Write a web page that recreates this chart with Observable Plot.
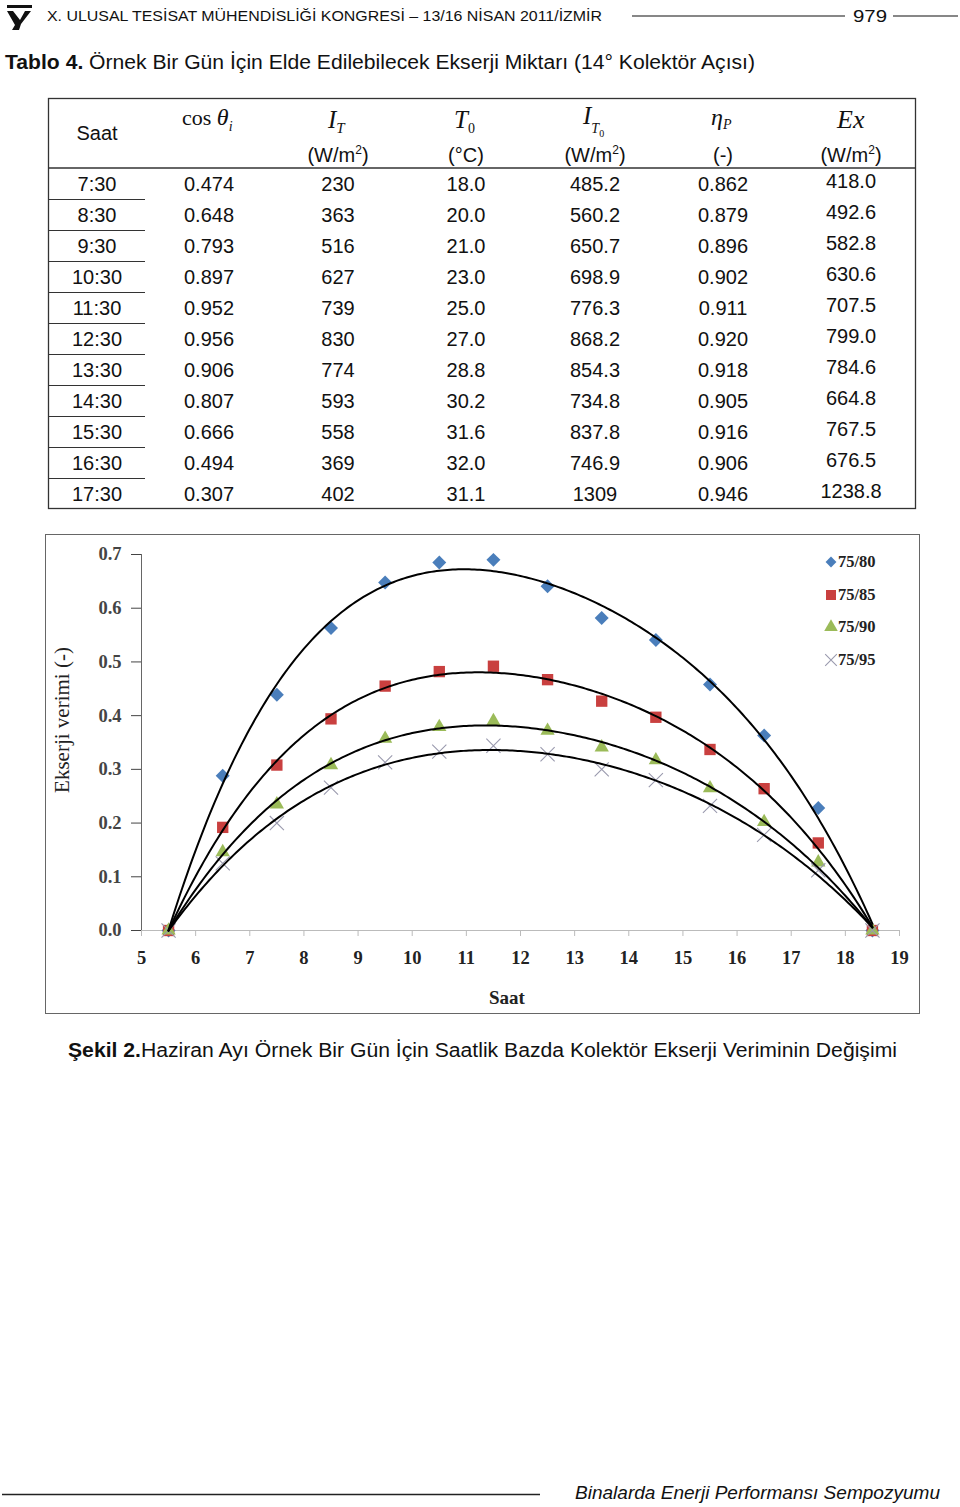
<!DOCTYPE html>
<html>
<head>
<meta charset="utf-8">
<script src="https://cdn.jsdelivr.net/npm/d3@7"></script>
<script src="https://cdn.jsdelivr.net/npm/@observablehq/plot@0.6"></script>
<style>
  html, body { margin: 0; padding: 0; background: #fff; }
  #page { position: relative; width: 960px; height: 1507px; overflow: hidden; }
  #page > svg.pagesvg { position: absolute; left: 0; top: 0; }
  #chart { position: absolute; left: 45px; top: 534px; width: 874px; height: 479px; }
  #chartframe { position: absolute; left: 45px; top: 534px; width: 873px; height: 478px; border: 1px solid #666; pointer-events: none; }
  .ov { position: absolute; font-family: "Liberation Serif", "Times New Roman", serif; color: #222; white-space: nowrap; }
</style>
</head>
<body>
<div id="page"></div>
<script>
// ---------------- DATA ----------------
const saat = ["7:30","8:30","9:30","10:30","11:30","12:30","13:30","14:30","15:30","16:30","17:30"];
const cosTheta = ["0.474","0.648","0.793","0.897","0.952","0.956","0.906","0.807","0.666","0.494","0.307"];
const IT = ["230","363","516","627","739","830","774","593","558","369","402"];
const T0 = ["18.0","20.0","21.0","23.0","25.0","27.0","28.8","30.2","31.6","32.0","31.1"];
const IT0 = ["485.2","560.2","650.7","698.9","776.3","868.2","854.3","734.8","837.8","746.9","1309"];
const etaP = ["0.862","0.879","0.896","0.902","0.911","0.920","0.918","0.905","0.916","0.906","0.946"];
const ExVal = ["418.0","492.6","582.8","630.6","707.5","799.0","784.6","664.8","767.5","676.5","1238.8"];

const hours = [5.5,6.5,7.5,8.5,9.5,10.5,11.5,12.5,13.5,14.5,15.5,16.5,17.5,18.5];
const s7580 = [0,0.288,0.439,0.563,0.648,0.685,0.690,0.641,0.582,0.541,0.458,0.363,0.228,0];
const s7585 = [0,0.192,0.308,0.394,0.455,0.482,0.492,0.467,0.427,0.397,0.337,0.264,0.163,0];
const s7590 = [0,0.146,0.235,0.308,0.357,0.379,0.390,0.372,0.341,0.317,0.265,0.202,0.127,0];
const s7595 = [0,0.125,0.200,0.266,0.313,0.333,0.344,0.328,0.300,0.280,0.232,0.178,0.112,0];
const seriesNames = ["75/80","75/85","75/90","75/95"];
const xTicks = [5,6,7,8,9,10,11,12,13,14,15,16,17,18,19];
const yTicks = [0,0.1,0.2,0.3,0.4,0.5,0.6,0.7];

// ---------------- PAGE (header, table, captions) ----------------
const page = d3.select("#page");
const svg = page.append("svg").attr("class","pagesvg").attr("width",960).attr("height",1507);
const SANS = "'Liberation Sans', Arial, sans-serif";
const SERIF = "'Liberation Serif', 'Times New Roman', serif";

// logo
const logo = svg.append("g").attr("fill","#111");
logo.append("rect").attr("x",7).attr("y",5).attr("width",25).attr("height",3);
logo.append("path").attr("d","M7,11 L13,11 L20,20 L25,11 L31,11 L21,24 L19,30 L12,30 L15,25 Z");
logo.append("circle").attr("cx",21).attr("cy",13).attr("r",2.2).attr("fill","#fff");

// header
svg.append("text").attr("x",47).attr("y",21).attr("font-family",SANS).attr("font-size",14)
  .attr("textLength",555).attr("lengthAdjust","spacingAndGlyphs").attr("fill","#111")
  .text("X. ULUSAL TESİSAT MÜHENDİSLİĞİ KONGRESİ – 13/16 NİSAN 2011/İZMİR");
svg.append("line").attr("x1",632).attr("x2",845).attr("y1",16).attr("y2",16).attr("stroke","#111").attr("stroke-width",1.2);
svg.append("line").attr("x1",893).attr("x2",958).attr("y1",16).attr("y2",16).attr("stroke","#111").attr("stroke-width",1.2);
svg.append("text").attr("x",853).attr("y",22).attr("font-family",SANS).attr("font-size",17)
  .attr("textLength",34).attr("lengthAdjust","spacingAndGlyphs").attr("fill","#111").text("979");
// title
const tt = svg.append("text").attr("x",5).attr("y",69).attr("font-family",SANS).attr("font-size",19.5)
  .attr("textLength",750).attr("lengthAdjust","spacingAndGlyphs").attr("fill","#111");
tt.append("tspan").attr("font-weight","bold").text("Tablo 4.");
tt.append("tspan").text(" Örnek Bir Gün İçin Elde Edilebilecek Ekserji Miktarı (14° Kolektör Açısı)");

// table
const tbl = svg.append("g");
tbl.append("rect").attr("x",48.5).attr("y",98.5).attr("width",867).attr("height",410)
  .attr("fill","none").attr("stroke","#333").attr("stroke-width",1.3);
tbl.append("line").attr("x1",48).attr("x2",916).attr("y1",168).attr("y2",168).attr("stroke","#333").attr("stroke-width",1.3);
const colX = [97,209,338,466,595,723,851];
const columns = [saat, cosTheta, IT, T0, IT0, etaP, ExVal];
const rowY0 = 184, rowH = 31;
saat.forEach((s,i) => {
  if (i < saat.length - 1) {
    tbl.append("line").attr("x1",48).attr("x2",145).attr("y1",rowY0 + rowH*i + 15.5).attr("y2",rowY0 + rowH*i + 15.5)
      .attr("stroke","#333").attr("stroke-width",1.2);
  }
});
columns.forEach((col,c) => {
  col.forEach((v,i) => {
    tbl.append("text").attr("x",colX[c]).attr("y",rowY0 + rowH*i + 7 - (c===6?3:0))
      .attr("text-anchor","middle").attr("font-family",SANS).attr("font-size",20).attr("fill","#111").text(v);
  });
});
// header row
tbl.append("text").attr("x",97).attr("y",140).attr("text-anchor","middle").attr("font-family",SANS).attr("font-size",20).attr("fill","#111").text("Saat");
function mathText(x, y, parts) {
  const t = tbl.append("text").attr("x",x).attr("y",y).attr("font-family",SERIF).attr("fill","#111");
  parts.forEach(p => {
    const s = t.append("tspan").text(p.t).attr("font-size",p.size || 24);
    if (p.it) s.attr("font-style","italic");
    if (p.dy) s.attr("dy",p.dy);
  });
  return t;
}
mathText(182,125,[{t:"cos ",size:22},{t:"θ",it:true,size:24},{t:"i",it:true,size:14,dy:6}]);
mathText(328,128,[{t:"I",it:true,size:25},{t:"T",it:true,size:15,dy:5}]);
mathText(454,128,[{t:"T",it:true,size:25},{t:"0",size:14,dy:5}]);
mathText(583,124,[{t:"I",it:true,size:25},{t:"T",it:true,size:14,dy:9},{t:"0",size:10,dy:4}]);
mathText(711,125,[{t:"η",it:true,size:24},{t:"P",it:true,size:14,dy:4}]);
mathText(837,128,[{t:"Ex",it:true,size:26}]);
function unitText(x, main, sup, tail) {
  const t = tbl.append("text").attr("x",x).attr("y",162).attr("text-anchor","middle").attr("font-family",SANS).attr("font-size",20).attr("fill","#111");
  t.append("tspan").text(main);
  if (sup) { t.append("tspan").attr("font-size",12).attr("dy",-8).text(sup); t.append("tspan").attr("dy",8).text(tail); }
}
unitText(338,"(W/m","2",")");
unitText(466,"(°C)");
unitText(595,"(W/m","2",")");
unitText(723,"(-)");
unitText(851,"(W/m","2",")");

// caption
const cap = svg.append("text").attr("x",68).attr("y",1057).attr("font-family",SANS).attr("font-size",19.5)
  .attr("textLength",829).attr("lengthAdjust","spacingAndGlyphs").attr("fill","#111");
cap.append("tspan").attr("font-weight","bold").text("Şekil 2.");
cap.append("tspan").text("Haziran Ayı Örnek Bir Gün İçin Saatlik Bazda Kolektör Ekserji Veriminin Değişimi");
// footer
svg.append("line").attr("x1",2).attr("x2",540).attr("y1",1494.5).attr("y2",1494.5).attr("stroke","#222").attr("stroke-width",1.6);
svg.append("text").attr("x",575).attr("y",1499).attr("font-family",SANS).attr("font-style","italic").attr("font-size",19)
  .attr("textLength",365).attr("lengthAdjust","spacingAndGlyphs").attr("fill","#111").text("Binalarda Enerji Performansı Sempozyumu");

// ---------------- CHART ----------------
const allSeries = [s7580, s7585, s7590, s7595];
const points = [];
allSeries.forEach((arr, k) => arr.forEach((v, i) => points.push({hour: hours[i], value: v, series: seriesNames[k]})));

// least-squares polynomial trendline (like the spreadsheet trendline) computed from the data
function polyfit(xs, ys, deg) {
  const c = 12, s = 6.5;
  const n = deg + 1;
  const A = Array.from({length:n}, () => new Array(n+1).fill(0));
  xs.forEach((x, i) => {
    const t = (x - c) / s;
    const p = []; for (let j = 0; j < n; j++) p.push(Math.pow(t, j));
    for (let r = 0; r < n; r++) { for (let q = 0; q < n; q++) A[r][q] += p[r]*p[q]; A[r][n] += p[r]*ys[i]; }
  });
  for (let col = 0; col < n; col++) {
    let piv = col; for (let r = col+1; r < n; r++) if (Math.abs(A[r][col]) > Math.abs(A[piv][col])) piv = r;
    [A[col], A[piv]] = [A[piv], A[col]];
    for (let r = 0; r < n; r++) if (r !== col) { const f = A[r][col]/A[col][col]; for (let q = col; q <= n; q++) A[r][q] -= f*A[col][q]; }
  }
  const coef = A.map((row, i) => row[n]/row[i]);
  return x => { const t = (x - c)/s; return coef.reduce((acc, a, j) => acc + a*Math.pow(t, j), 0); };
}
const trend = [];
const [h0, h1] = d3.extent(hours);
allSeries.forEach((arr, k) => {
  const f = polyfit(hours, arr, 4);
  for (let x = h0; x <= h1 + 1e-9; x += 0.05) trend.push({hour: x, value: f(x), series: seriesNames[k]});
});

const colors = {"75/80":"#4a7ebb","75/85":"#c9403f","75/90":"#9bbb59","75/95":"#9a9aae"};
const chart = Plot.plot({
  width: 874, height: 479,
  marginLeft: 96, marginRight: 20, marginTop: 20, marginBottom: 83,
  x: {domain: [5, 19]},
  y: {domain: [0, 0.7]},
  style: {fontFamily: "'Liberation Serif', 'Times New Roman', serif", fontWeight: "bold", fontSize: "18.5px", background: "transparent", overflow: "visible"},
  marks: [
    Plot.ruleY([0], {stroke: "#bbb", strokeWidth: 1.2}),
    Plot.ruleX([5], {stroke: "#666", strokeWidth: 1}),
    Plot.axisX({ticks: xTicks, tickSize: 6, tickFormat: () => "", color: "#bbb", label: null}),
    Plot.axisX({ticks: xTicks, tickSize: 0, tickPadding: 20, tickFormat: d3.format("d"), color: "#222", label: null}),
    Plot.axisY({ticks: yTicks, tickSize: 10, tickPadding: 10, tickFormat: d3.format(".1f"), color: "#444", label: null}),
    Plot.dot(points.filter(d => d.series === "75/80"), {x: "hour", y: "value", symbol: "diamond2", r: 6.3, fill: colors["75/80"], stroke: "none"}),
    Plot.dot(points.filter(d => d.series === "75/85"), {x: "hour", y: "value", symbol: "square", r: 6.4, fill: colors["75/85"], stroke: "none"}),
    Plot.dot(points.filter(d => d.series === "75/90"), {x: "hour", y: "value", symbol: "triangle", r: 5.3, fill: colors["75/90"], stroke: "none"}),
    Plot.dot(points.filter(d => d.series === "75/95"), {x: "hour", y: "value", symbol: "times", r: 6.5, fill: "none", stroke: colors["75/95"], strokeWidth: 1.1}),
    Plot.line(trend, {x: "hour", y: "value", z: "series", stroke: "#000", strokeWidth: 2})
  ]
});
const chartDiv = page.append("div").attr("id","chart");
chartDiv.node().appendChild(chart);
page.append("div").attr("id","chartframe");

// axis titles
page.append("div").attr("class","ov")
  .style("left","62px").style("top","720px").style("font-size","21px")
  .style("transform","translate(-50%,-50%) rotate(-90deg)").text("Ekserji verimi (-)");
page.append("div").attr("class","ov")
  .style("left","507px").style("top","998px").style("font-size","19px").style("font-weight","bold")
  .style("transform","translate(-50%,-50%)").text("Saat");

// legend
const legendSym = {"75/80": d3.symbolDiamond2, "75/85": d3.symbolSquare, "75/90": d3.symbolTriangle, "75/95": d3.symbolTimes};
const legendSize = {"75/80": 75, "75/85": 100, "75/90": 80, "75/95": 90};
const legend = page.append("div").attr("class","ov").style("left","822px").style("top","552px");
seriesNames.forEach((name, i) => {
  const row = legend.append("div").style("height","32.7px").style("display","flex").style("align-items","flex-start");
  const s = row.append("svg").attr("width",16).attr("height",20);
  const path = s.append("path").attr("transform","translate(9,10)").attr("d", d3.symbol(legendSym[name], legendSize[name])());
  if (name === "75/95") path.attr("fill","none").attr("stroke",colors[name]).attr("stroke-width",1.1);
  else path.attr("fill",colors[name]);
  row.append("span").style("font-size","16.5px").style("font-weight","bold").style("line-height","20px").text(name);
});
</script>
</body>
</html>
